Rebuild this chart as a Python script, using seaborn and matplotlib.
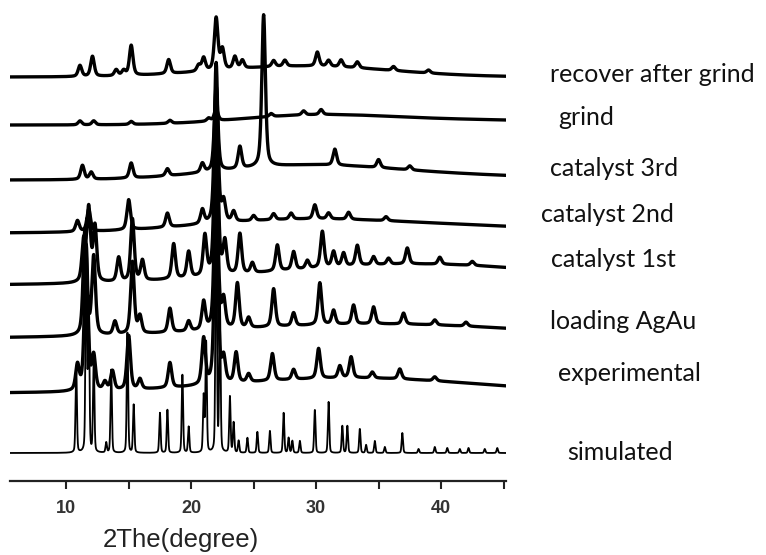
import numpy as np
import pandas as pd
import matplotlib
matplotlib.use("Agg")
import matplotlib.pyplot as plt
import seaborn as sns

# ---------------- data ----------------
series_names = ["recover after grind", "grind", "catalyst 3rd", "catalyst 2nd",
                "catalyst 1st", "loading AgAu", "experimental", "simulated"]
offsets = [404, 356, 301, 248, 196, 143, 88, 28]

recover_pos = [11.1, 12.1, 14.0, 14.6, 15.2, 18.2, 20.6, 21.0, 22.0, 22.5, 23.5, 24.1,
               26.6, 27.5, 30.1, 31.0, 32.0, 33.3, 36.2, 39.0]
recover_h = [11, 20, 6, 5, 30, 14, 6, 13, 52, 20, 12, 8, 6, 6, 14, 6, 7, 6, 4, 3]
recover_bg = [(29.0, 11, 7.0)]

grind_pos = [11.1, 12.2, 15.2, 18.3, 21.4, 22.0, 26.4, 29.0, 30.4]
grind_h = [4, 4, 3, 3, 3, 12, 3, 4, 5]
grind_bg = [(29.5, 8, 6.0), (42.0, 5, 10.0)]

cat3_pos = [11.3, 12.0, 15.2, 18.1, 20.9, 22.0, 23.9, 25.8, 31.5, 35.0, 37.5]
cat3_h = [14, 7, 15, 7, 9, 85, 22, 152, 16, 8, 4]
cat3_bg = [(29.0, 14, 7.0), (42.0, 4, 8.0)]

cat2_pos = [10.9, 11.8, 15.0, 18.1, 20.9, 22.0, 22.6, 23.4, 25.0, 26.6, 28.0, 29.9,
            31.0, 32.6, 35.6]
cat2_h = [11, 22, 30, 14, 14, 160, 20, 10, 5, 6, 6, 14, 6, 7, 4]
cat2_bg = [(28.0, 12, 8.0), (42.0, 6, 9.0)]

cat1_pos = [11.4, 11.8, 12.3, 14.2, 15.3, 16.1, 18.6, 19.8, 21.1, 22.0, 22.7, 23.9,
            24.9, 26.9, 28.2, 29.3, 30.5, 31.4, 32.2, 33.3, 34.6, 35.8, 37.3, 39.9, 42.5]
cat1_h = [40, 72, 55, 24, 62, 20, 35, 26, 40, 190, 32, 40, 10, 26, 18, 8, 36, 15,
          13, 20, 8, 6, 16, 7, 4]
cat1_bg = [(38.0, 21, 12.0)]

load_pos = [11.5, 12.2, 13.9, 15.3, 15.9, 18.3, 19.8, 21.0, 22.0, 22.6, 23.7, 24.6,
            26.6, 28.2, 30.3, 31.4, 33.0, 34.6, 37.0, 39.5, 42.0]
load_h = [105, 78, 13, 72, 17, 24, 10, 28, 175, 28, 45, 10, 38, 13, 42, 14, 19, 17,
          11, 5, 4]
load_bg = [(35.0, 14, 12.0)]

exp_pos = [10.9, 11.6, 12.2, 13.1, 13.7, 15.0, 15.9, 18.3, 21.0, 22.0, 22.6, 23.6,
           24.6, 26.5, 28.2, 30.2, 31.9, 32.8, 34.5, 36.7, 39.5]
exp_h = [25, 145, 33, 8, 19, 54, 10, 25, 46, 195, 24, 30, 8, 27, 10, 30, 12, 21,
         6, 10, 4]
exp_bg = [(33.0, 15, 10.0)]

sim_pos = [10.8, 11.6, 11.8, 12.2, 13.2, 13.6, 14.9, 15.4, 17.5, 18.1, 19.3, 19.8,
           21.0, 21.2, 22.0, 22.3, 23.1, 23.4, 23.8, 24.5, 25.3, 26.3, 27.4, 27.8,
           28.1, 28.7, 29.9, 31.0, 32.1, 32.5, 33.5, 34.0, 34.7, 35.5, 36.9, 38.2,
           39.5, 40.5, 41.5, 42.2, 43.5, 44.5]
sim_h = [85, 230, 150, 95, 10, 83, 120, 48, 40, 43, 78, 26, 56, 110, 270, 150, 56,
         30, 12, 15, 21, 22, 40, 15, 12, 12, 43, 51, 27, 27, 24, 8, 12, 6, 20, 4,
         6, 5, 4, 5, 4, 5]
sim_bg = []

x_ticks = [10, 20, 30, 40]
x_minor = [15, 25, 35, 45]
x_label = "2The(degree)"

peak_sets = [
    (recover_pos, recover_h, recover_bg),
    (grind_pos, grind_h, grind_bg),
    (cat3_pos, cat3_h, cat3_bg),
    (cat2_pos, cat2_h, cat2_bg),
    (cat1_pos, cat1_h, cat1_bg),
    (load_pos, load_h, load_bg),
    (exp_pos, exp_h, exp_bg),
    (sim_pos, sim_h, sim_bg),
]

# ---------------- build profiles ----------------
tt = np.arange(5.5, 45.21, 0.01)


def profile(pos, h, bg, fwhm, eta):
    y = np.zeros_like(tt)
    g = fwhm / 2.3548
    hw = fwhm / 2
    for p, a in zip(pos, h):
        gauss = np.exp(-0.5 * ((tt - p) / g) ** 2)
        lor = 1.0 / (1.0 + ((tt - p) / hw) ** 2)
        y += a * (eta * lor + (1 - eta) * gauss)
    for c, a, s in bg:
        y += a * np.exp(-0.5 * ((tt - c) / s) ** 2)
    return y


frames = []
for name, off, (pos, h, bg) in zip(series_names, offsets, peak_sets):
    if name == "simulated":
        y = profile(pos, h, bg, 0.13, 0.3)
    else:
        y = profile(pos, h, bg, 0.34, 0.5)
    frames.append(pd.DataFrame({"two_theta": tt, "intensity": y + off, "sample": name}))
df = pd.concat(frames, ignore_index=True)

# ---------------- draw ----------------
sns.set_theme(style="white")
W, H = 766, 555
fig = plt.figure(figsize=(W / 100, H / 100), dpi=100)
ax = fig.add_axes([10 / W, 1 - 481 / H, (506 - 10) / W, (481 - 10) / H])

for name in series_names:
    sub = df[df["sample"] == name]
    lw = 1.3 if name == "simulated" else 2.4
    sns.lineplot(data=sub, x="two_theta", y="intensity", ax=ax, color="black",
                 lw=lw, estimator=None, sort=False, legend=False)

ax.set_xlim(5.5, 45.2)
ax.set_ylim(0, 471)
for s in ["left", "top", "right"]:
    ax.spines[s].set_visible(False)
ax.spines["bottom"].set_linewidth(1.6)
ax.spines["bottom"].set_color("#222222")
ax.set_xticks(x_ticks)
ax.set_xticks(x_minor, minor=True)
ax.set_xticklabels([str(t) for t in x_ticks], fontsize=13, fontweight="bold",
                   family=["Liberation Sans", "DejaVu Sans"], color="#333333")
ax.tick_params(axis="x", which="both", direction="out", length=6, width=1.5,
               color="#222222", bottom=True, pad=8)
ax.set_yticks([])
ax.set_xlabel("")
ax.set_ylabel("")

fig.text(103 / W, 1 - 547 / H, x_label, fontsize=18.5,
         family=["Liberation Sans", "DejaVu Sans"], color="#222222",
         ha="left", va="baseline")

label_xy = [(550, 82), (558, 125), (550, 176), (541, 222), (551, 267),
            (550, 329), (558, 381), (567, 460)]
for name, (lx, ly) in zip(series_names, label_xy):
    fig.text(lx / W, 1 - ly / H, name, fontsize=18, family=["Lato", "DejaVu Sans"],
             color="#111111", ha="left", va="baseline")

fig.savefig("out.png", dpi=100)
